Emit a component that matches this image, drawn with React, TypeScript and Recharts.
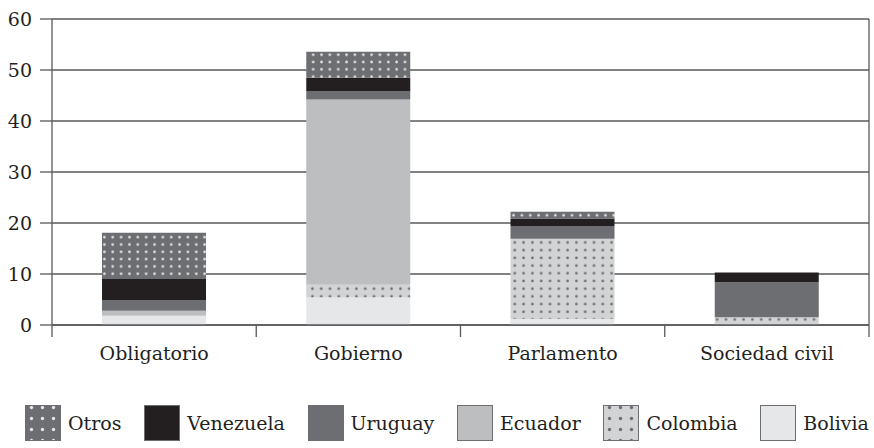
import { BarChart, Bar, XAxis, YAxis, CartesianGrid, Legend } from "recharts";

const categories = ["Obligatorio", "Gobierno", "Parlamento", "Sociedad civil"];
const bolivia = [1.8, 5.4, 1.2, 0];
const colombia = [0, 2.5, 15.7, 1.5];
const ecuador = [1.0, 36.3, 0, 0];
const uruguay = [2.1, 1.7, 2.5, 6.9];
const venezuela = [4.1, 2.6, 1.5, 1.9];
const otros = [9.1, 5.1, 1.3, 0];
const yTicks = [0, 10, 20, 30, 40, 50, 60];

const data = categories.map((name, i) => ({
  name,
  Bolivia: bolivia[i],
  Colombia: colombia[i],
  Ecuador: ecuador[i],
  Uruguay: uruguay[i],
  Venezuela: venezuela[i],
  Otros: otros[i],
}));

const FONT = "'DejaVu Serif', serif";
const LINE = "#58595b";
const TEXT = "#231f20";

const series = [
  { key: "Bolivia", fill: "#e6e7e8" },
  { key: "Colombia", fill: "url(#colDots)" },
  { key: "Ecuador", fill: "#bcbec0" },
  { key: "Uruguay", fill: "#6d6e71" },
  { key: "Venezuela", fill: "#231f20" },
  { key: "Otros", fill: "url(#otrosDots)" },
];

function CatTick(props: any) {
  const { x, y, payload, index, width } = props;
  const bw = (width || 817) / categories.length;
  return (
    <g>
      <line x1={x - bw / 2} y1={y} x2={x - bw / 2} y2={y + 12} stroke={LINE} strokeWidth={1.3} />
      {index === categories.length - 1 && (
        <line x1={x + bw / 2} y1={y} x2={x + bw / 2} y2={y + 12} stroke={LINE} strokeWidth={1.3} />
      )}
      <text x={x} y={y + 35} textAnchor="middle" fontFamily={FONT} fontSize={19} fill={TEXT}>
        {payload.value}
      </text>
    </g>
  );
}

function Swatch({ k }: { k: string }) {
  const s = series.find((d) => d.key === k)!;
  return (
    <svg width={36} height={36} style={{ display: "block" }}>
      <defs>
        <pattern id="lgOtros" width={11} height={11} patternUnits="userSpaceOnUse" x={1} y={-3}>
          <rect width={11} height={11} fill="#6d6e71" />
          <circle cx={5.5} cy={5.5} r={1.7} fill="#e6e6e6" />
        </pattern>
        <pattern id="lgCol" width={11} height={11} patternUnits="userSpaceOnUse" x={1} y={-3}>
          <rect width={11} height={11} fill="#d1d3d4" />
          <circle cx={5.5} cy={5.5} r={1.7} fill="#6d6e71" />
        </pattern>
      </defs>
      <rect
        x={0.5}
        y={0.5}
        width={35}
        height={35}
        fill={k === "Otros" ? "url(#lgOtros)" : k === "Colombia" ? "url(#lgCol)" : s.fill}
        stroke="#6d6e71"
        strokeWidth={1}
      />
    </svg>
  );
}

function LegendBox() {
  const order = ["Otros", "Venezuela", "Uruguay", "Ecuador", "Colombia", "Bolivia"];
  return (
    <div
      style={{
        height: 60,
        display: "flex",
        justifyContent: "space-between",
        alignItems: "flex-start",
        paddingTop: 17,
        paddingLeft: 25,
        paddingRight: 1,
        boxSizing: "border-box",
        fontFamily: FONT,
        fontSize: 19,
        color: TEXT,
      }}
    >
      {order.map((k) => (
        <div key={k} style={{ display: "flex", alignItems: "center" }}>
          <Swatch k={k} />
          <span style={{ marginLeft: 7 }}>{k}</span>
        </div>
      ))}
    </div>
  );
}

export default function App() {
  return (
    <div style={{ position: "absolute", left: 0, top: 0, background: "#fff" }}>
      <BarChart width={874} height={448} data={data} margin={{ top: 19, right: 4, bottom: 0, left: 0 }} barSize={104}>
        <defs>
          <pattern id="otrosDots" width={8.35} height={7.3} patternUnits="userSpaceOnUse">
            <rect width={8.35} height={7.3} fill="#6d6e71" />
            <circle cx={4.2} cy={3.6} r={1.35} fill="#e2e2e2" />
          </pattern>
          <pattern id="colDots" width={8.8} height={7.7} patternUnits="userSpaceOnUse">
            <rect width={8.8} height={7.7} fill="#d1d3d4" />
            <circle cx={4.4} cy={3.8} r={1.35} fill="#6d6e71" />
          </pattern>
        </defs>
        <CartesianGrid vertical={false} stroke={LINE} strokeWidth={1.3} />
        <XAxis
          dataKey="name"
          interval={0}
          height={63}
          tickLine={false}
          tickSize={0}
          tickMargin={0}
          axisLine={{ stroke: LINE, strokeWidth: 1.3 }}
          tick={<CatTick />}
        />
        <YAxis
          domain={[0, 60]}
          ticks={yTicks}
          width={52}
          tickSize={12}
          tickMargin={8}
          tickLine={{ stroke: LINE, strokeWidth: 1.3 }}
          axisLine={{ stroke: LINE, strokeWidth: 1.3 }}
          tick={{ fontFamily: FONT, fontSize: 19, fill: TEXT }}
        />
        <YAxis
          yAxisId="r"
          orientation="right"
          width={1}
          tick={false}
          tickLine={false}
          axisLine={{ stroke: LINE, strokeWidth: 1.3 }}
        />
        <Legend verticalAlign="bottom" content={() => <LegendBox />} />
        {series.map((s) => (
          <Bar key={s.key} dataKey={s.key} stackId="a" fill={s.fill} isAnimationActive={false} />
        ))}
      </BarChart>
    </div>
  );
}
